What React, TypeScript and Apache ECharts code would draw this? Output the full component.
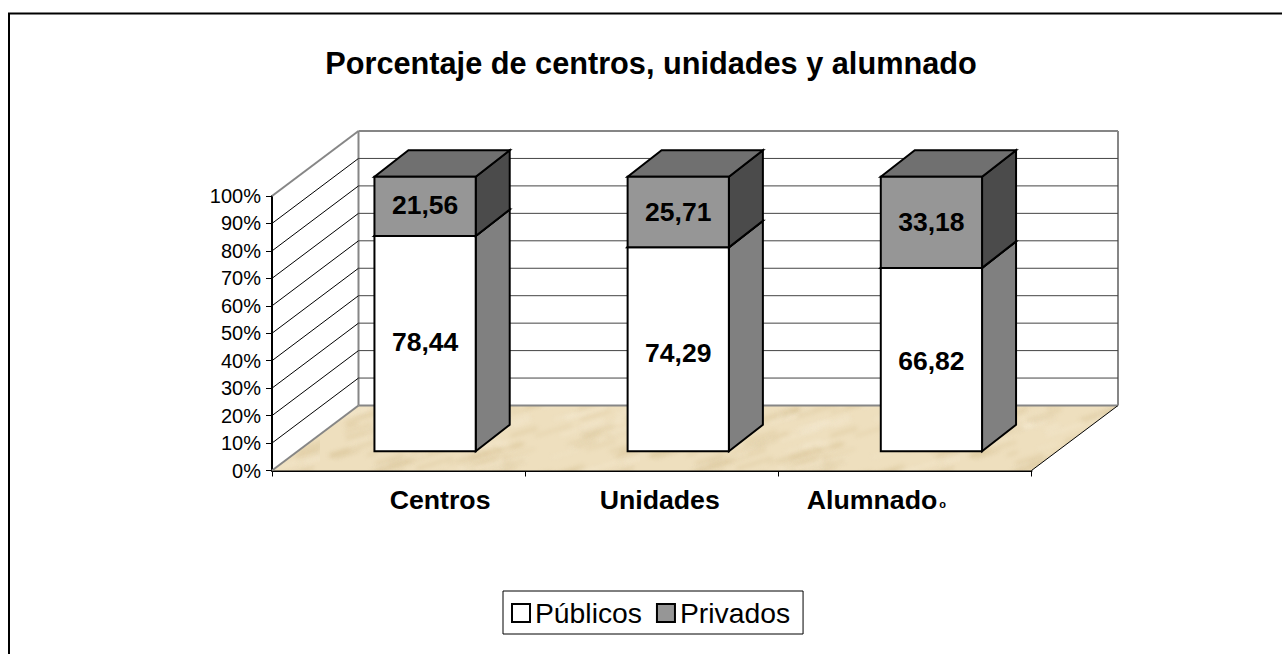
import React, { useEffect, useRef } from "react";
import * as echarts from "echarts";

const titleText = "Porcentaje de centros, unidades y alumnado";
const categories = ["Centros", "Unidades", "Alumnado"];
const publicos = [78.44, 74.29, 66.82];
const privados = [21.56, 25.71, 33.18];
const gridValues = [10, 20, 30, 40, 50, 60, 70, 80, 90, 100];
const seriesNames = ["Públicos", "Privados"];

const FONT = '"Liberation Sans", Arial, sans-serif';
const WALL = { x: 86.5, y: -65 };
const BAR_PLANE = { x: 26.5, y: -19.2 };
const BAR_DEPTH = { x: 34, y: -26.5 };
const publicosLabelNudge = [-3, 3, 0];
const privadosLabelNudge = [-2, -1, -1];

function makeSand(): HTMLCanvasElement {
  const c = document.createElement("canvas");
  c.width = 320;
  c.height = 120;
  const g = c.getContext("2d") as CanvasRenderingContext2D;
  g.fillStyle = "#eedfbe";
  g.fillRect(0, 0, 320, 120);
  const hash = (n: number) => {
    const s = Math.sin(n * 12.9898) * 43758.5453;
    return s - Math.floor(s);
  };
  g.filter = "blur(2px)";
  for (let i = 0; i < 170; i++) {
    const x = hash(i + 1) * 320;
    const y = hash(i + 101) * 120;
    const l = 10 + hash(i + 201) * 34;
    const dark = hash(i + 301) > 0.45;
    g.strokeStyle = dark ? "rgba(208,186,136,0.3)" : "rgba(248,238,214,0.4)";
    g.lineWidth = 1.5 + hash(i + 401) * 3;
    g.beginPath();
    g.moveTo(x, y);
    g.lineTo(x + l, y - l * 0.3);
    g.stroke();
  }
  return c;
}

export default function App() {
  const ref = useRef<HTMLDivElement>(null);
  useEffect(() => {
    const chart = echarts.init(ref.current as HTMLDivElement, undefined, { renderer: "svg" });
    const sand = makeSand();

    const renderWalls = (params: any, api: any) => {
      const cs = params.coordSys;
      const x0 = cs.x;
      const x1 = cs.x + cs.width;
      const yB = cs.y + cs.height;
      const v = api.value(0);
      const y = api.coord([0, v])[1];
      const black = { stroke: "#000", lineWidth: 1 };
      const gray = { stroke: "#868686", lineWidth: 2 };
      const children: any[] = [];
      if (params.dataIndex === 0) {
        children.push({
          type: "polygon",
          shape: { points: [[x0, yB], [x0 + WALL.x, yB + WALL.y], [x1 + WALL.x, yB + WALL.y], [x1, yB]] },
          style: { fill: { image: sand, repeat: "repeat" } },
        });
        children.push({ type: "line", shape: { x1: x0, y1: yB, x2: x0 + WALL.x, y2: yB + WALL.y }, style: gray });
        children.push({ type: "line", shape: { x1: x0 + WALL.x, y1: yB + WALL.y, x2: x1 + WALL.x, y2: yB + WALL.y }, style: gray });
        children.push({ type: "line", shape: { x1: x1, y1: yB, x2: x1 + WALL.x, y2: yB + WALL.y }, style: black });
        children.push({ type: "line", shape: { x1: x0 + WALL.x, y1: yB + WALL.y, x2: x0 + WALL.x, y2: cs.y + WALL.y }, style: gray });
        children.push({ type: "line", shape: { x1: x1 + WALL.x, y1: yB + WALL.y, x2: x1 + WALL.x, y2: cs.y + WALL.y }, style: gray });
      }
      const top = v === 100;
      children.push({ type: "line", shape: { x1: x0, y1: y, x2: x0 + WALL.x, y2: y + WALL.y }, style: top ? gray : black });
      children.push({ type: "line", shape: { x1: x0 + WALL.x, y1: y + WALL.y, x2: x1 + WALL.x, y2: y + WALL.y }, style: top ? gray : { stroke: "#444", lineWidth: 1 } });
      return { type: "group", children };
    };

    const renderBar = (front: string, side: string, topFace: string, nudge: number[]) => (_p: any, api: any) => {
      const cat = api.value(0);
      const a = api.value(1);
      const b = api.value(2);
      const low = api.coord([cat, a]);
      const high = api.coord([cat, b]);
      const half = api.size([1, 0])[0] * 0.2;
      const xc = low[0] + BAR_PLANE.x;
      const yL = low[1] + BAR_PLANE.y;
      const yH = high[1] + BAR_PLANE.y;
      const xl = xc - half;
      const xr = xc + half;
      const line = { stroke: "#000", lineWidth: 2, lineJoin: "miter" };
      return {
        type: "group",
        children: [
          {
            type: "polygon",
            shape: { points: [[xr, yL], [xr + BAR_DEPTH.x, yL + BAR_DEPTH.y], [xr + BAR_DEPTH.x, yH + BAR_DEPTH.y], [xr, yH]] },
            style: { fill: side, ...line },
          },
          {
            type: "polygon",
            shape: { points: [[xl, yH], [xl + BAR_DEPTH.x, yH + BAR_DEPTH.y], [xr + BAR_DEPTH.x, yH + BAR_DEPTH.y], [xr, yH]] },
            style: { fill: topFace, ...line },
          },
          { type: "rect", shape: { x: xl, y: yH, width: xr - xl, height: yL - yH }, style: { fill: front, ...line } },
          {
            type: "text",
            style: {
              text: (b - a).toFixed(2).replace(".", ","),
              x: xc,
              y: (yL + yH) / 2 + 1 + nudge[cat],
              align: "center",
              verticalAlign: "middle",
              font: `bold 26.5px ${FONT}`,
              fill: "#000",
            },
          },
        ],
      };
    };

    const catRich = (size: number, padding: number[]) => ({ fontFamily: FONT, fontWeight: "bold", fontSize: size, color: "#000", padding });

    chart.setOption({
      animation: false,
      backgroundColor: "#fff",
      title: {
        text: titleText,
        left: 646,
        top: 43,
        textAlign: "center",
        textStyle: { fontFamily: FONT, fontWeight: "bold", fontSize: 30.7, color: "#000" },
      },
      grid: { left: 272, right: 250.5, top: 196, bottom: 183.5 },
      legend: {
        left: 503,
        top: 591,
        padding: [8, 13, 7, 8],
        borderColor: "#000",
        borderWidth: 1,
        itemWidth: 18,
        itemHeight: 18,
        itemGap: 14,
        textStyle: { fontFamily: FONT, fontSize: 28.3, color: "#000" },
        data: [
          { name: seriesNames[0], icon: "rect", itemStyle: { color: "#fff", borderColor: "#000", borderWidth: 2 } },
          { name: seriesNames[1], icon: "rect", itemStyle: { color: "#969696", borderColor: "#000", borderWidth: 2 } },
        ],
      },
      xAxis: {
        type: "category",
        data: categories,
        axisLine: { lineStyle: { color: "#000", width: 2 } },
        axisTick: { show: true, alignWithLabel: false, length: 6, lineStyle: { color: "#000", width: 1 } },
        axisLabel: {
          interval: 0,
          margin: 16,
          formatter: (v: string, i: number) => (i === 2 ? `{c2|${v}}{ring|o}` : `{c${i}|${v}}`),
          rich: {
            c0: catRich(26.7, [0, 0, 0, 83]),
            c1: catRich(26.7, [0, 0, 0, 16]),
            c2: catRich(26.7, [0, 0, 0, 0]),
            ring: catRich(11, [8, 57, 0, 2]),
          },
        },
      },
      yAxis: {
        type: "value",
        min: 0,
        max: 100,
        interval: 10,
        splitLine: { show: false },
        axisLine: { show: true, lineStyle: { color: "#000", width: 2 } },
        axisTick: { show: true, length: 6, lineStyle: { color: "#000" } },
        axisLabel: { formatter: "{value}%", fontFamily: FONT, fontSize: 20, color: "#000", margin: 11 },
      },
      series: [
        {
          type: "custom",
          silent: true,
          z: 1,
          clip: false,
          renderItem: renderWalls,
          data: gridValues.map((v) => [v]),
          encode: { y: 0 },
        },
        {
          type: "custom",
          name: seriesNames[0],
          z: 2,
          clip: false,
          itemStyle: { color: "#fff" },
          renderItem: renderBar("#ffffff", "#808080", "#808080", publicosLabelNudge),
          data: publicos.map((v, i) => [i, 0, v]),
          encode: { x: 0, y: 2 },
        },
        {
          type: "custom",
          name: seriesNames[1],
          z: 3,
          clip: false,
          itemStyle: { color: "#969696" },
          renderItem: renderBar("#969696", "#4b4b4b", "#707070", privadosLabelNudge),
          data: privados.map((v, i) => [i, publicos[i], publicos[i] + v]),
          encode: { x: 0, y: 2 },
        },
      ],
      graphic: [
        {
          type: "polyline",
          silent: true,
          shape: { points: [[9, 654], [9, 13.5], [1282, 13.5]] },
          style: { fill: "none", stroke: "#000", lineWidth: 2 },
        },
      ],
    });
    return () => chart.dispose();
  }, []);
  return <div ref={ref} style={{ position: "fixed", left: 0, top: 0, width: 1282, height: 654 }} />;
}
